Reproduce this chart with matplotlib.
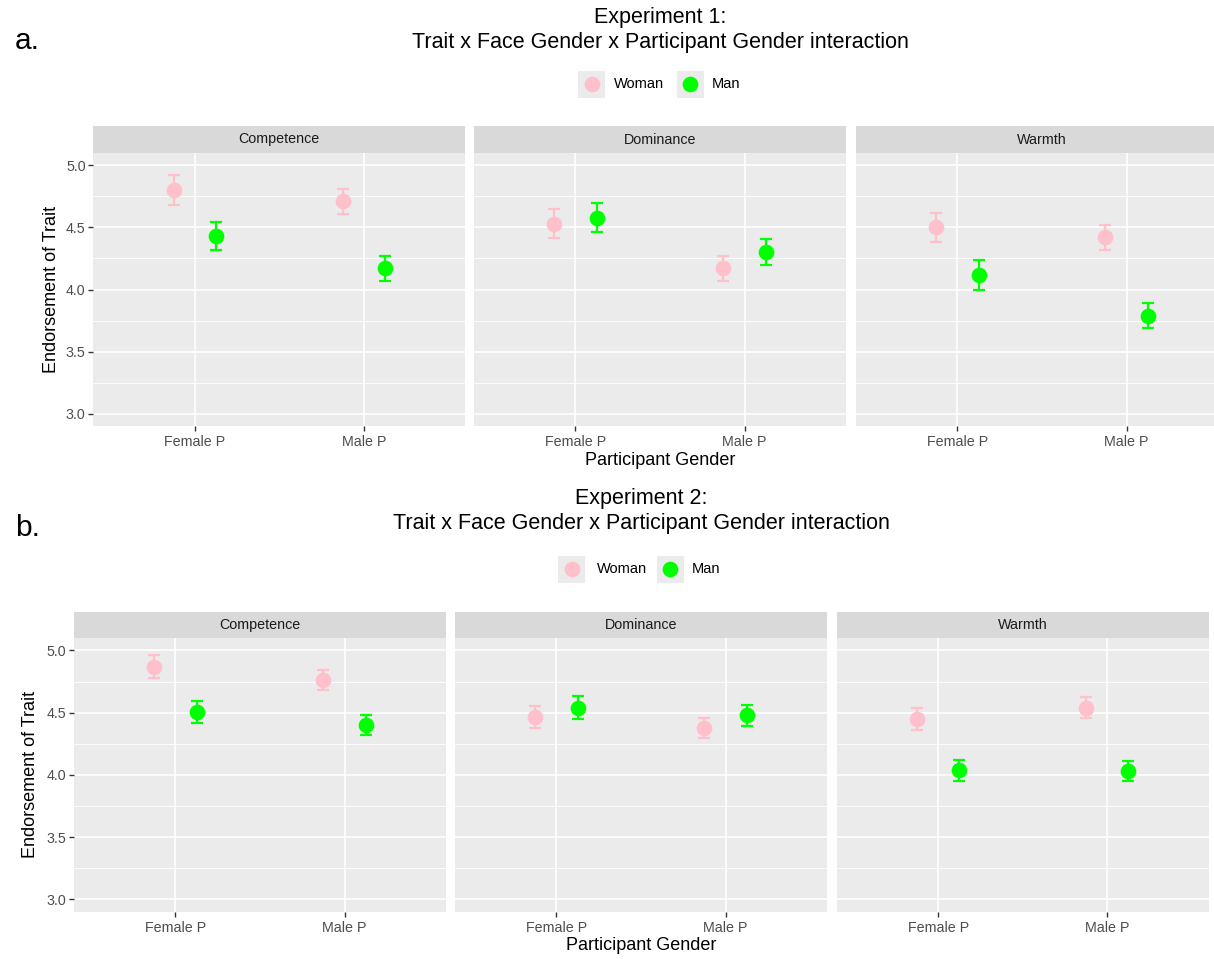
import matplotlib
matplotlib.use("Agg")
import matplotlib.pyplot as plt
from matplotlib.lines import Line2D
from matplotlib.patches import Rectangle
import numpy as np

plt.rcParams["font.family"] = ["Liberation Sans", "DejaVu Sans"]

# ---- data -------------------------------------------------------------
traits = ["Competence", "Dominance", "Warmth"]
participant_groups = ["Female P", "Male P"]
face_genders = ["Woman", "Man"]
y_ticks = [3.0, 3.5, 4.0, 4.5, 5.0]
y_tick_labels = ["3.0", "3.5", "4.0", "4.5", "5.0"]

# rows: traits, columns: participant groups
exp1_woman = [[4.80, 4.71], [4.53, 4.17], [4.50, 4.42]]
exp1_man = [[4.43, 4.17], [4.58, 4.30], [4.12, 3.79]]
exp1_woman_err = [[0.12, 0.10], [0.115, 0.10], [0.115, 0.10]]
exp1_man_err = [[0.115, 0.10], [0.12, 0.105], [0.12, 0.10]]

exp2_woman = [[4.87, 4.76], [4.465, 4.38], [4.45, 4.54]]
exp2_man = [[4.505, 4.40], [4.54, 4.48], [4.035, 4.03]]
exp2_woman_err = [[0.09, 0.08], [0.09, 0.08], [0.09, 0.085]]
exp2_man_err = [[0.09, 0.08], [0.09, 0.085], [0.085, 0.08]]

# ---- styling ------------------------------------------------------------
W, H = 1214, 959
COL_WOMAN = "#FFC0CB"
COL_MAN = "#00FF00"
PANEL_BG = "#EBEBEB"
STRIP_BG = "#D9D9D9"
TICK_COL = "#4D4D4D"

fig = plt.figure(figsize=(W / 100, H / 100), dpi=100)


def px_rect(left, top, right, bottom):
    return [left / W, 1 - bottom / H, (right - left) / W, (bottom - top) / H]


def fx(x):
    return x / W


def fy(y):
    return 1 - y / H


def draw_experiment(title, letter, woman, man, woman_err, man_err, lay):
    dodge = 0.125
    xs = np.arange(len(participant_groups))
    axes = []
    for i, trait in enumerate(traits):
        left = lay["lefts"][i]
        right = left + lay["width"]
        ax = fig.add_axes(px_rect(left, lay["top"], right, lay["bottom"]))
        ax.set_facecolor(PANEL_BG)
        for s in ax.spines.values():
            s.set_visible(False)
        ax.set_xlim(-0.6, len(participant_groups) - 1 + 0.6)
        ax.set_ylim(2.9, 5.1)
        ax.set_yticks(y_ticks)
        ax.set_yticks([3.25, 3.75, 4.25, 4.75], minor=True)
        ax.set_xticks(xs)
        ax.set_xticklabels(participant_groups, fontsize=10.3, color=TICK_COL)
        ax.grid(True, which="major", color="white", lw=1.2)
        ax.grid(True, which="minor", axis="y", color="white", lw=0.6)
        ax.set_axisbelow(True)
        ax.tick_params(axis="x", length=3.5, width=1.0, color="#333333", pad=3)
        ax.tick_params(axis="y", which="minor", length=0)
        if i == 0:
            ax.set_yticklabels(y_tick_labels, fontsize=10.3, color=TICK_COL)
            ax.tick_params(axis="y", length=3.5, width=1.0, color="#333333", pad=2)
        else:
            ax.tick_params(axis="y", length=0, labelleft=False)

        series = [
            (woman[i], woman_err[i], COL_WOMAN, -dodge),
            (man[i], man_err[i], COL_MAN, dodge),
        ]
        for vals, errs, col, off in series:
            ax.errorbar(xs + off, vals, yerr=errs, fmt="none", ecolor=col,
                        elinewidth=1.6, capsize=4, capthick=1.6, zorder=3)
            ax.plot(xs + off, vals, "o", color=col, markersize=11.3,
                    markeredgewidth=0, zorder=4)

        # facet strip
        sax = fig.add_axes(px_rect(left, lay["strip_top"], right, lay["top"]))
        sax.set_facecolor(STRIP_BG)
        sax.set_xticks([])
        sax.set_yticks([])
        for s in sax.spines.values():
            s.set_visible(False)
        sax.text(0.5, 0.5, trait, ha="center", va="center", fontsize=10.3,
                 color="#1A1A1A", transform=sax.transAxes)
        axes.append(ax)

    # axis titles
    fig.text(fx(lay["ylab_x"]), fy((lay["top"] + lay["bottom"]) / 2),
             "Endorsement of Trait", rotation=90, ha="center", va="center",
             fontsize=13, color="black")
    fig.text(fx(lay["center"]), fy(lay["xlab_y"]), "Participant Gender",
             ha="center", va="center", fontsize=13, color="black")

    # title and panel letter
    fig.text(fx(lay["center"]), fy(lay["title_y"]), title, ha="center",
             va="center", fontsize=15.5, linespacing=1.25)
    fig.text(fx(15), fy(lay["letter_y"]), letter, ha="left", va="baseline",
             fontsize=21.5)

    # legend
    ly = lay["legend_y"]
    for (cx, tx), label, col in zip(lay["legend_keys"], face_genders,
                                    [COL_WOMAN, COL_MAN]):
        fig.add_artist(Rectangle((fx(cx - 13.5), fy(ly + 13.5)), 27 / W, 27 / H,
                                 transform=fig.transFigure,
                                 facecolor=PANEL_BG, edgecolor="none"))
        fig.add_artist(Line2D([fx(cx)], [fy(ly)], transform=fig.transFigure,
                              marker="o", color=col, markersize=11.3,
                              markeredgewidth=0, linestyle="none"))
        fig.text(fx(tx), fy(ly), label, ha="left", va="center", fontsize=10.5,
                 color="black")
    return axes


layout_top = dict(lefts=[93.3, 474, 856], width=372, top=153, bottom=426,
                  strip_top=126, ylab_x=51, xlab_y=461, center=660,
                  title_y=30, letter_y=49, legend_y=84,
                  legend_keys=[(591.7, 614), (690, 712)])
layout_bottom = dict(lefts=[74, 455, 836.7], width=372, top=638, bottom=911.7,
                     strip_top=611.7, ylab_x=31, xlab_y=945, center=641,
                     title_y=511, letter_y=536, legend_y=569,
                     legend_keys=[(571.7, 597), (670, 692)])

draw_experiment("Experiment 1:\nTrait x Face Gender x Participant Gender interaction",
                "a.", exp1_woman, exp1_man, exp1_woman_err, exp1_man_err,
                layout_top)
draw_experiment("Experiment 2:\nTrait x Face Gender x Participant Gender interaction",
                "b.", exp2_woman, exp2_man, exp2_woman_err, exp2_man_err,
                layout_bottom)

fig.savefig("out.png", dpi=100, facecolor="white")
